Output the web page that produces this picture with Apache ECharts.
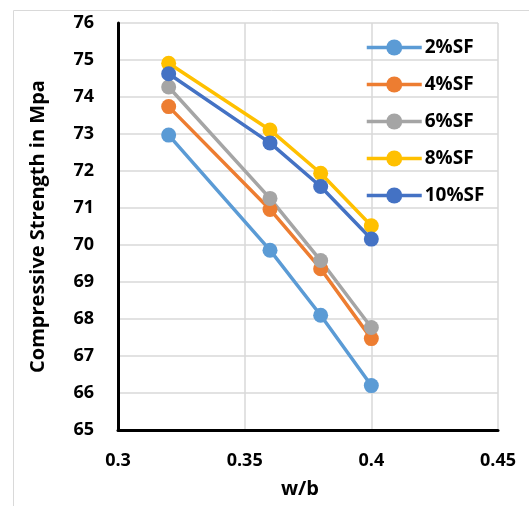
<!DOCTYPE html>
<html><head><meta charset="utf-8">
<script src="https://cdn.jsdelivr.net/npm/echarts@6/dist/echarts.min.js"></script>
<style>html,body{margin:0;padding:0;background:#fff}#c{width:529px;height:506px}</style>
</head><body><div id="c"></div>
<script>
var wb = [0.32, 0.36, 0.38, 0.40];
var seriesNames = ['2%SF', '4%SF', '6%SF', '8%SF', '10%SF'];
var sf2 = [72.97, 69.86, 68.10, 66.20];
var sf4 = [73.74, 70.96, 69.36, 67.47];
var sf6 = [74.27, 71.26, 69.58, 67.77];
var sf8 = [74.91, 73.11, 71.94, 70.52];
var sf10 = [74.63, 72.76, 71.58, 70.16];
var colors = ['#5B9BD5', '#ED7D31', '#A5A5A5', '#FFC000', '#4472C4'];
var allData = [sf2, sf4, sf6, sf8, sf10];
var font = 'Open Sans';

var chart = echarts.init(document.getElementById('c'));
chart.setOption({
  animation: false,
  color: colors,
  graphic: [{type: 'rect', shape: {x: 13.5, y: 10.5, width: 600, height: 600}, style: {fill: 'none', stroke: '#d9d9d9', lineWidth: 1}, z: -10}],
  grid: {left: 118, top: 23, right: 31, bottom: 76},
  legend: {
    orient: 'vertical', left: 360, top: 33, itemGap: 18, itemWidth: 55, itemHeight: 20,
    data: seriesNames,
    lineStyle: {width: 3.5},
    textStyle: {fontFamily: font, fontWeight: 'bold', fontSize: 19, color: '#000', padding: [0, 0, 0, -2]}
  },
  xAxis: {
    type: 'value', min: 0.3, max: 0.45, interval: 0.05,
    name: 'w/b', nameLocation: 'middle', nameGap: 49,
    nameTextStyle: {fontFamily: font, fontWeight: 'bold', fontSize: 20, color: '#000', padding: [0, 16, 0, 0]},
    axisLine: {lineStyle: {color: '#000', width: 3}},
    axisTick: {show: false},
    axisLabel: {fontFamily: font, fontWeight: 'bold', fontSize: 18, color: '#000', margin: 22},
    splitLine: {show: true, lineStyle: {color: '#d9d9d9', width: 1.5}}
  },
  yAxis: {
    type: 'value', min: 65, max: 76, interval: 1,
    name: 'Compressive Strength in Mpa', nameLocation: 'middle', nameGap: 70, nameRotate: 90,
    nameTextStyle: {fontFamily: font, fontWeight: 'bold', fontSize: 20, color: '#000'},
    axisLine: {show: true, lineStyle: {color: '#000', width: 3}},
    axisTick: {show: false},
    axisLabel: {fontFamily: font, fontWeight: 'bold', fontSize: 18, color: '#000', margin: 24},
    splitLine: {show: true, lineStyle: {color: '#d9d9d9', width: 1.5}}
  },
  series: seriesNames.map(function (n, i) {
    return {
      name: n, type: 'line',
      data: wb.map(function (x, j) { return [x, allData[i][j]]; }),
      symbol: 'circle', symbolSize: 15,
      lineStyle: {width: 3.5, color: colors[i]},
      itemStyle: {color: colors[i]}
    };
  })
});
</script></body></html>
